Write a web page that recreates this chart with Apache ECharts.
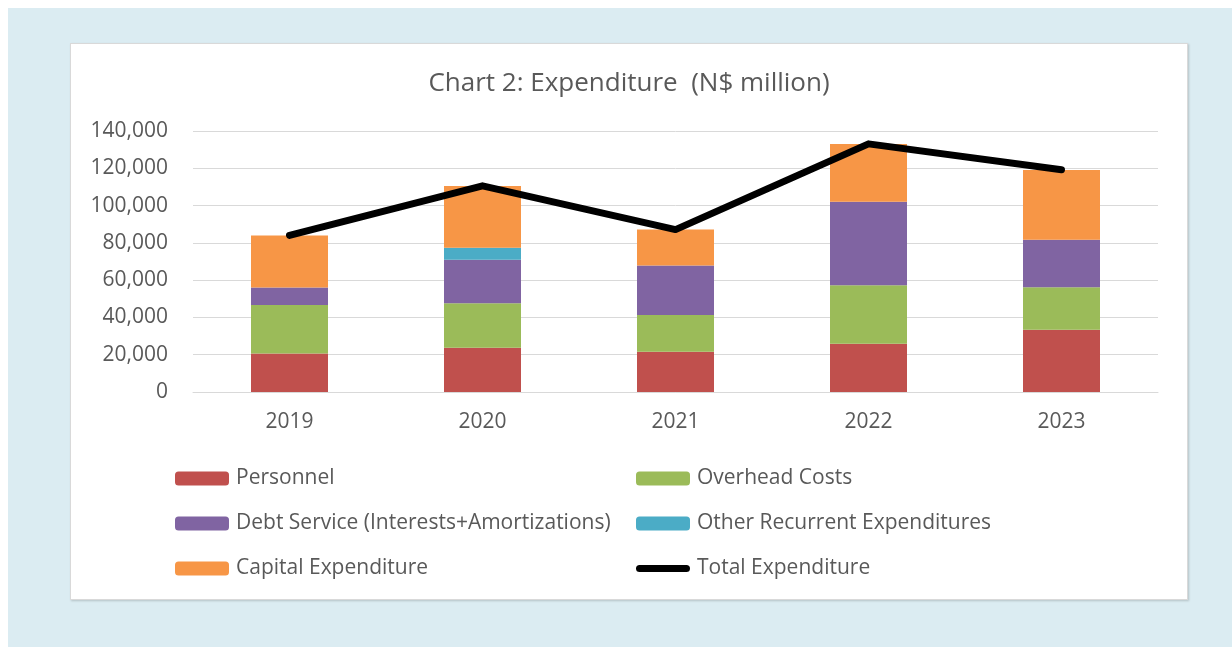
<!DOCTYPE html>
<html>
<head>
<meta charset="utf-8">
<script src="https://cdn.jsdelivr.net/npm/echarts@6/dist/echarts.min.js"></script>
<style>
  html, body { margin: 0; padding: 0; background: #ffffff; }
  #bg { position: absolute; left: 8px; top: 8px; width: 1224px; height: 639px; background: #dbecf2; }
  #panel {
    position: absolute; left: 70px; top: 43px; width: 1116px; height: 555px;
    background: #ffffff; border: 1px solid #d9d9d9;
    box-shadow: 1px 1px 2px rgba(0, 0, 0, 0.18);
  }
  #chart { position: absolute; left: 0; top: 0; width: 1232px; height: 647px; }
</style>
</head>
<body>
<div id="bg"></div>
<div id="panel"></div>
<div id="chart"></div>
<script>
"use strict";

// categories and values (N$ million)
const years = ["2019", "2020", "2021", "2022", "2023"];
const personnel = [20600, 23800, 21600, 25900, 33400];
const overhead = [26100, 23800, 19700, 31300, 22800];
const debt_service = [9300, 23400, 26500, 44900, 25500];
const other_recurrent = [0, 6400, 0, 0, 0];
const capital = [27900, 33100, 19300, 30900, 37400];
const total = [84000, 110600, 87100, 133100, 119200];

const font = "'Open Sans', Lato, sans-serif";
const text_color = "#595959";

const chart = echarts.init(document.getElementById("chart"), null, { renderer: "canvas" });

function bar(name, values, color) {
  return {
    name: name,
    type: "bar",
    stack: "exp",
    barWidth: 77,
    data: values,
    itemStyle: { color: color },
    silent: true,
    animation: false,
  };
}

const legend_common = {
  orient: "vertical",
  padding: 0,
  itemWidth: 54,
  itemHeight: 14,
  itemGap: 24,
  selectedMode: false,
  textStyle: { color: text_color, fontFamily: font, fontSize: 21, padding: [0, 0, 0, 2] },
};

const line_icon = "path://M4,0 H56 A4,4 0 0 1 56,8 H4 A4,4 0 0 1 4,0 Z";

chart.setOption({
  backgroundColor: "transparent",
  animation: false,
  title: {
    text: "Chart 2: Expenditure  (N$ million)",
    left: 624,
    top: 66,
    textAlign: "center",
    textStyle: { color: text_color, fontFamily: font, fontSize: 26, fontWeight: "normal" },
  },
  grid: { left: 193, right: 74, top: 131, bottom: 255, containLabel: false },
  legend: [
    {
      ...legend_common,
      left: 175,
      top: 468,
      data: ["Personnel", "Debt Service (Interests+Amortizations)", "Capital Expenditure"],
    },
    {
      ...legend_common,
      left: 636,
      top: 468,
      data: [
        "Overhead Costs",
        "Other Recurrent Expenditures",
        { name: "Total Expenditure", icon: line_icon, itemStyle: { color: "#000000" } },
      ],
    },
  ],
  xAxis: {
    type: "category",
    data: years,
    axisLine: { show: true, lineStyle: { color: "#d9d9d9", width: 1 } },
    axisTick: { show: false },
    axisLabel: { color: text_color, fontFamily: font, fontSize: 21, margin: 20 },
  },
  yAxis: {
    type: "value",
    min: 0,
    max: 140000,
    interval: 20000,
    axisLine: { show: false },
    axisTick: { show: false },
    axisLabel: { color: text_color, fontFamily: font, fontSize: 21, margin: 25 },
    splitLine: { lineStyle: { color: "#d9d9d9", width: 1 } },
  },
  series: [
    bar("Personnel", personnel, "#c0504d"),
    bar("Overhead Costs", overhead, "#9bbb59"),
    bar("Debt Service (Interests+Amortizations)", debt_service, "#8064a2"),
    bar("Other Recurrent Expenditures", other_recurrent, "#4bacc6"),
    bar("Capital Expenditure", capital, "#f79646"),
    {
      name: "Total Expenditure",
      type: "line",
      data: total,
      symbol: "none",
      lineStyle: { color: "#000000", width: 7, cap: "round", join: "round" },
      itemStyle: { color: "#000000" },
      z: 5,
      silent: true,
    },
  ],
});
</script>
</body>
</html>
